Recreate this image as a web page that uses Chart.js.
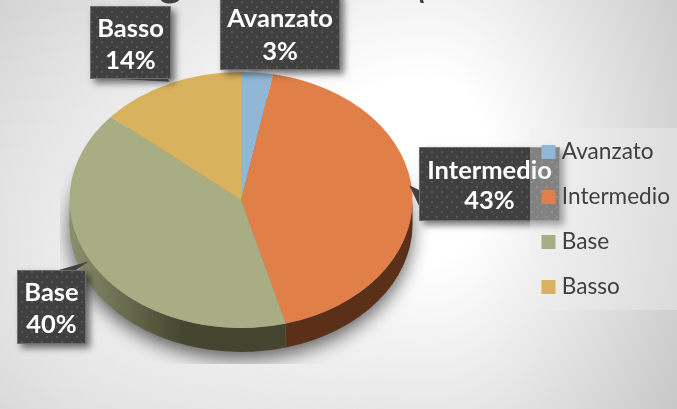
<!DOCTYPE html>
<html><head><meta charset="utf-8">
<style>html,body{margin:0;padding:0;background:#fff}canvas{display:block}#w{width:677px;height:409px}</style>
<script src="https://cdn.jsdelivr.net/npm/chart.js@4"></script></head>
<body><div id="w"><canvas id="c" width="677" height="409"></canvas></div>
<script>
const categories = ['Avanzato','Intermedio','Base','Basso'];
const shares = [3,42.8,40.49,13.71];
const sliceColors = ['#92B6D5','#E07F47','#A8AD83','#D9B25E'];
const sideColors = ['#4a5e70','#5A3019','#45462F','#6b5526'];

const CX=241, CY=200, RX=171.5, RY=128, DEPTH=24;
const FONT='Lato, "Open Sans", sans-serif';
const boxes = [
 {x:220,y:-8,w:120,h:78,ty:[19,52],base:[248,264]},
 {x:419,y:147,w:141,h:74,ty:[171,201],base:[190,206],side:'left'},
 {x:17,y:270,w:69,h:74,ty:[293,325],base:[59,76]},
 {x:90,y:6,w:81,h:73,ty:[29,61],base:[120,168]}
];

function dotPattern(ctx){
  const p=document.createElement('canvas');p.width=10;p.height=10;
  const g=p.getContext('2d');g.fillStyle='#404040';g.fillRect(0,0,10,10);
  g.fillStyle='#565656';g.fillRect(1,1,2,2);g.fillRect(6,6,2,2);
  return ctx.createPattern(p,'repeat');
}
function wash(c,x0,x1,rx,ry){
  // one half of the backdrop's off-centre elliptical glow
  c.save();c.beginPath();c.rect(x0,0,x1-x0,409);c.clip();
  c.translate(430,170);c.scale(rx,ry);
  const g=c.createRadialGradient(0,0,0,0,0,1);
  g.addColorStop(0,'#ffffff');g.addColorStop(.2,'#ffffff');g.addColorStop(1,'#c6c6c6');
  c.fillStyle=g;c.fillRect(-3,-3,6,6);c.restore();
}
const pie3d={
 id:'pie3d',
 beforeLayout(chart){
   const l=chart.legend;
   l._layers=()=>[{z:5,draw(a){
     const c=chart.ctx;c.save();
     c.fillStyle='rgba(238,238,238,0.38)';c.fillRect(530,128,147,182);
     c.restore();
     // keys and names sit closer together than the library's default gap
     c.save();c.beginPath();c.rect(530,128,28,182);c.clip();l.draw(a);c.restore();
     c.save();c.beginPath();c.rect(558,128,119,182);c.clip();c.translate(-5,0);l.draw(a);c.restore();
   }}];
 },
 beforeDraw(chart){
   const c=chart.ctx;
   wash(c,430,677,300,450);wash(c,0,430,600,450);
   c.save();
   const g=c.createRadialGradient(100,300,0,100,300,300);
   g.addColorStop(0,'rgba(255,255,255,.45)');g.addColorStop(1,'rgba(255,255,255,0)');
   c.fillStyle=g;c.fillRect(0,0,677,409);
   c.restore();
   // the title's lower edge, cut off by the top of the picture
   c.save();c.fillStyle='#404040';c.textBaseline='alphabetic';
   c.font='bold 44px '+FONT;c.fillText('g',159,-4);
   c.font='bold 30px "DejaVu Sans"';c.fillText('\\',413,0);c.restore();
 },
 beforeDatasetsDraw(chart){
   const c=chart.ctx,arcs=chart.getDatasetMeta(0).data;
   // soft drop shadow, clipped to the plot rectangle
   c.save();c.beginPath();c.rect(60,60,380,304);c.clip();
   c.save();c.shadowColor='rgba(0,0,0,.6)';c.shadowBlur=18;c.shadowOffsetY=7;c.fillStyle='#888';
   c.beginPath();c.ellipse(CX,CY+DEPTH,RX,RY,0,0,Math.PI*2);c.fill();c.restore();c.restore();
   // extruded rim built from the arc elements
   arcs.forEach((a,i)=>{
     const from=Math.max(a.startAngle,0), to=Math.min(a.endAngle,Math.PI);
     if(to<=from)return;
     c.beginPath();
     c.ellipse(CX,CY,RX,RY,0,from,to);
     c.ellipse(CX,CY+DEPTH,RX,RY,0,to,from,true);
     c.closePath();
     if(i===2){const g=c.createLinearGradient(70,0,220,0);
       g.addColorStop(0,'#8a8f6c');g.addColorStop(.75,'#45462F');g.addColorStop(1,'#44452F');c.fillStyle=g;}
     else c.fillStyle=sideColors[i];
     c.fill();
   });
   const a0=arcs[0];
   c.save();
   c.translate(CX,CY);c.scale(1,RY/RX);c.translate(-a0.x,-a0.y);
 },
 afterDatasetsDraw(chart){
   const c=chart.ctx,arcs=chart.getDatasetMeta(0).data;
   c.restore();
   const pat=dotPattern(c);
   arcs.forEach((a,i)=>{
     const b=boxes[i],m=(a.startAngle+a.endAngle)/2;
     const tx=CX+RX*Math.cos(m), ty=CY+RY*Math.sin(m);
     c.save();
     c.shadowColor='rgba(0,0,0,.55)';c.shadowBlur=7;c.shadowOffsetX=4;c.shadowOffsetY=4;
     c.fillStyle=pat;c.beginPath();
     c.rect(b.x,b.y,b.w,b.h);c.fill();
     c.shadowColor='transparent';
     c.fillStyle='#404040';c.beginPath();
     if(b.side==='left'){c.moveTo(b.x,b.base[0]);c.lineTo(tx-3,ty-10);c.lineTo(b.x,b.base[1]);}
     else if(b.y+b.h<ty){c.moveTo(b.base[0],b.y+b.h);c.lineTo(tx,ty-2);c.lineTo(b.base[1],b.y+b.h);}
     else {c.moveTo(b.base[0],b.y);c.lineTo(tx-7,ty-7);c.lineTo(b.base[1],b.y);}
     c.fill();
     c.strokeStyle='#6e6e6e';c.lineWidth=1;c.strokeRect(b.x+.5,b.y+.5,b.w-1,b.h-1);
     c.fillStyle='#fff';c.font='bold 25.5px '+FONT;c.textAlign='center';c.textBaseline='middle';
     c.fillText(categories[i],b.x+b.w/2,b.ty[0]);
     c.fillText(Math.round(shares[i])+'%',b.x+b.w/2,b.ty[1]);
     c.restore();
   });
 }
};
new Chart(document.getElementById('c'),{
 type:'pie',
 plugins:[pie3d],
 data:{labels:categories,datasets:[{data:shares,backgroundColor:sliceColors,borderWidth:0}]},
 options:{
  responsive:false,animation:false,radius:RX,
  layout:{padding:{top:30,right:-8,bottom:0,left:0}},
  plugins:{tooltip:{enabled:false},
   legend:{position:'right',align:'center',labels:{color:'#404040',boxWidth:14,boxHeight:14,padding:22.4,font:{family:FONT,size:22.6}}}}
 }
});
</script></body></html>
